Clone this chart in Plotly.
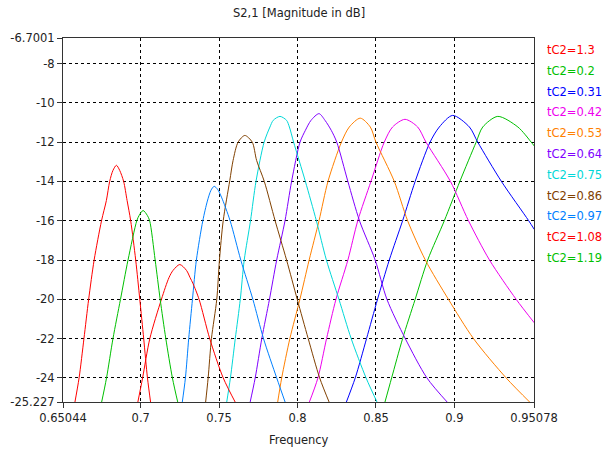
import plotly.graph_objects as go

# ---- data ----
labels = ["tC2=1.3", "tC2=0.2", "tC2=0.31", "tC2=0.42", "tC2=0.53", "tC2=0.64",
          "tC2=0.75", "tC2=0.86", "tC2=0.97", "tC2=1.08", "tC2=1.19"]

freq_1p30 = [0.6579, 0.6607, 0.6638, 0.6668, 0.6703, 0.6750, 0.6781, 0.6802, 0.6823, 0.6845, 0.6866, 0.6891, 0.6913, 0.6936, 0.6968, 0.6994, 0.7019, 0.7043, 0.7064]
mag_1p30 = [-25.3, -24, -22, -20, -18, -16, -14.97, -14, -13.44, -13.18, -13.44, -14, -14.97, -16, -18, -20, -22, -24, -25.3]

freq_1p19 = [0.6749, 0.6782, 0.6823, 0.6871, 0.6919, 0.6975, 0.6990, 0.7015, 0.7042, 0.7057, 0.7092, 0.7124, 0.7160, 0.7202, 0.7238]
mag_1p19 = [-25.3, -24, -22, -20, -18, -16, -15.73, -15.48, -15.73, -16, -18, -20, -22, -24, -25.3]

freq_1p08 = [0.6980, 0.7012, 0.7058, 0.7132, 0.7180, 0.7206, 0.7249, 0.7292, 0.7315, 0.7334, 0.7372, 0.7440, 0.7526, 0.7607]
mag_1p08 = [-25.3, -24, -22, -20, -18.9, -18.53, -18.23, -18.53, -18.9, -19.21, -20, -22, -24, -25.3]

freq_0p97 = [0.7264, 0.7285, 0.7306, 0.7330, 0.7355, 0.7396, 0.7425, 0.7448, 0.7468, 0.7490, 0.7515, 0.7570, 0.7638, 0.7715, 0.7783, 0.7867, 0.7924]
mag_0p97 = [-25.3, -24, -22, -20, -18, -16, -15, -14.45, -14.25, -14.4, -14.8, -16, -18, -20, -22, -24, -25.3]

freq_0p86 = [0.7413, 0.7430, 0.7451, 0.7485, 0.7502, 0.7526, 0.7568, 0.7589, 0.7621, 0.7664, 0.7711, 0.7739, 0.7788, 0.7857, 0.7930, 0.7998, 0.8068, 0.8141, 0.8205]
mag_0p86 = [-25.3, -24, -22, -20, -18, -16, -13.95, -12.93, -12, -11.66, -12, -12.93, -14, -16, -18, -20, -22, -24, -25.3]

freq_0p75 = [0.7547, 0.7572, 0.7603, 0.7635, 0.7660, 0.7700, 0.7735, 0.7787, 0.7824, 0.7845, 0.7888, 0.7930, 0.7948, 0.7975, 0.8050, 0.8120, 0.8184, 0.8264, 0.8342, 0.8437, 0.8511]
mag_0p75 = [-25.3, -24, -22, -20, -18, -16, -14, -12, -11.23, -10.89, -10.69, -10.89, -11.23, -12, -14, -16, -18, -20, -22, -24, -25.3]

freq_0p64 = [0.7696, 0.7730, 0.7772, 0.7821, 0.7867, 0.7920, 0.7962, 0.8016, 0.8050, 0.8086, 0.8137, 0.8175, 0.8215, 0.8250, 0.8321, 0.8395, 0.8495, 0.8570, 0.8687, 0.8825, 0.8962]
mag_0p64 = [-25.3, -24, -22, -20, -18, -16, -14, -12, -11.4, -10.89, -10.55, -10.89, -11.4, -12, -14, -16, -18, -20, -22, -24, -25.3]

freq_0p53 = [0.7872, 0.7899, 0.7951, 0.8015, 0.8074, 0.8137, 0.8194, 0.8280, 0.8330, 0.8400, 0.8464, 0.8500, 0.8617, 0.8702, 0.8815, 0.8962, 0.9122, 0.9330, 0.9489]
mag_0p53 = [-25.3, -24, -22, -20, -18, -16, -14, -12, -11.23, -10.78, -11.23, -12, -14, -16, -18, -20, -22, -24, -25.3]

freq_0p42 = [0.8072, 0.8130, 0.8185, 0.8245, 0.8321, 0.8384, 0.8468, 0.8553, 0.8606, 0.8685, 0.8766, 0.8819, 0.8975, 0.9090, 0.9224, 0.9394, 0.9510]
mag_0p42 = [-25.3, -24, -22, -20, -18, -16, -14, -12, -11.23, -10.84, -11.23, -12, -14, -16, -18, -20, -21.2]

freq_0p31 = [0.8308, 0.8368, 0.8440, 0.8510, 0.8585, 0.8670, 0.8750, 0.8845, 0.8904, 0.8989, 0.9096, 0.9149, 0.9300, 0.9474, 0.9510]
mag_0p31 = [-25.3, -24, -22, -20, -18, -16, -14, -12, -11.23, -10.64, -11.23, -12, -14, -16, -16.45]

freq_0p20 = [0.8555, 0.8600, 0.8670, 0.8750, 0.8830, 0.8936, 0.9035, 0.9139, 0.9181, 0.9277, 0.9405, 0.9490, 0.9510]
mag_0p20 = [-25.3, -24, -22, -20, -18, -16, -14, -12, -11.23, -10.69, -11.23, -12, -12.2]

x_tickvals = [0.65044, 0.7, 0.75, 0.8, 0.85, 0.9, 0.95078]
x_ticktext = ["0.65044", "0.7", "0.75", "0.8", "0.85", "0.9", "0.95078"]
y_tickvals = [-6.7001, -8, -10, -12, -14, -16, -18, -20, -22, -24, -25.227]
y_ticktext = ["-6.7001", "-8", "-10", "-12", "-14", "-16", "-18", "-20", "-22", "-24", "-25.227"]

# ---- styling ----
colors = {
    "tC2=1.3": "#FF0000", "tC2=0.2": "#00C000", "tC2=0.31": "#0000FF",
    "tC2=0.42": "#EE00EE", "tC2=0.53": "#FF8000", "tC2=0.64": "#8000FF",
    "tC2=0.75": "#00D8D8", "tC2=0.86": "#804000", "tC2=0.97": "#0080FF",
    "tC2=1.08": "#FF0000", "tC2=1.19": "#00C000",
}
series = {
    "tC2=1.3": (freq_1p30, mag_1p30), "tC2=0.2": (freq_0p20, mag_0p20),
    "tC2=0.31": (freq_0p31, mag_0p31), "tC2=0.42": (freq_0p42, mag_0p42),
    "tC2=0.53": (freq_0p53, mag_0p53), "tC2=0.64": (freq_0p64, mag_0p64),
    "tC2=0.75": (freq_0p75, mag_0p75), "tC2=0.86": (freq_0p86, mag_0p86),
    "tC2=0.97": (freq_0p97, mag_0p97), "tC2=1.08": (freq_1p08, mag_1p08),
    "tC2=1.19": (freq_1p19, mag_1p19),
}

FONT = "DejaVu Sans"
FS = 11.5
fig = go.Figure()
for name in labels:
    fx, fy = series[name]
    fig.add_trace(go.Scatter(x=fx, y=fy, mode="lines", name=name, hoverinfo="skip",
                             line=dict(color=colors[name], width=1, shape="spline", smoothing=0.8)))

L, R, T, B = 63, 74, 38, 50
W, H = 608, 452
ph = H - T - B
pw = W - L - R

fig.update_layout(
    width=W, height=H, margin=dict(l=L, r=R, t=T, b=B, autoexpand=False),
    paper_bgcolor="white", plot_bgcolor="white", showlegend=False,
    font=dict(family=FONT, size=FS, color="#222222"),
)
axis_common = dict(showgrid=True, gridcolor="#000000", griddash="3px,3px", gridwidth=1,
                   showline=True, linecolor="#333333", linewidth=1, mirror=True,
                   ticks="outside", ticklen=5, tickcolor="#333333", zeroline=False,
                   automargin=False)
fig.update_xaxes(range=[0.65044, 0.95078], tickvals=x_tickvals, ticktext=x_ticktext, **axis_common)
fig.update_yaxes(range=[-25.227, -6.7001], tickvals=y_tickvals, ticktext=y_ticktext, **axis_common)

def py_to_paper(py):
    return ((H - B) - py) / ph

def px_to_paper(px):
    return (px - L) / pw

# title and axis title
fig.add_annotation(text="S2,1 [Magnitude in dB]", xref="paper", yref="paper",
                   x=0.5, y=py_to_paper(13), xanchor="center", yanchor="middle",
                   showarrow=False, font=dict(family=FONT, size=FS, color="#222222"))
fig.add_annotation(text="Frequency", xref="paper", yref="paper",
                   x=0.5, y=py_to_paper(440), xanchor="center", yanchor="middle",
                   showarrow=False, font=dict(family=FONT, size=FS, color="#222222"))

# legend as coloured text
for i, name in enumerate(labels):
    fig.add_annotation(text=name, xref="paper", yref="paper",
                       x=px_to_paper(545), y=py_to_paper(50 + i * 20.8),
                       xanchor="left", yanchor="middle", showarrow=False,
                       font=dict(family=FONT, size=FS, color=colors[name]))

# remove the default 8px page margin so the figure sits at the window origin
fig.write_html("out.html", config={"displayModeBar": False},
               post_script="document.body.style.margin='0px';")
